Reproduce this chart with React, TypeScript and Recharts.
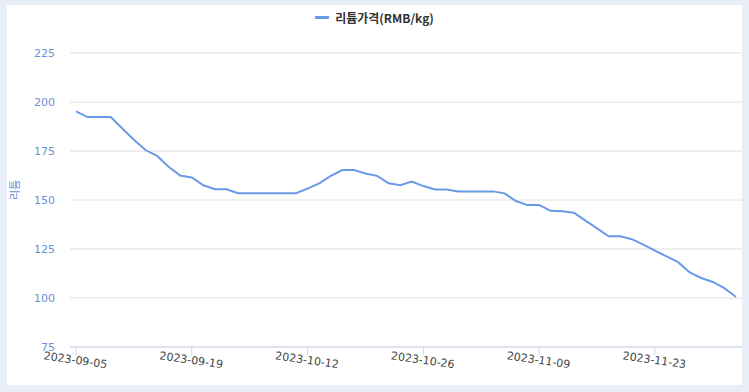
import { CartesianGrid, Legend, Line, LineChart, XAxis, YAxis } from "recharts";

// trading days, one label every 10 points
const dates = [
  "2023-09-05", "2023-09-06", "2023-09-07", "2023-09-08", "2023-09-11", "2023-09-12", "2023-09-13", "2023-09-14", "2023-09-15", "2023-09-18",
  "2023-09-19", "2023-09-20", "2023-09-21", "2023-09-22", "2023-09-25", "2023-09-26", "2023-09-27", "2023-10-09", "2023-10-10", "2023-10-11",
  "2023-10-12", "2023-10-13", "2023-10-16", "2023-10-17", "2023-10-18", "2023-10-19", "2023-10-20", "2023-10-23", "2023-10-24", "2023-10-25",
  "2023-10-26", "2023-10-27", "2023-10-30", "2023-10-31", "2023-11-01", "2023-11-02", "2023-11-03", "2023-11-06", "2023-11-07", "2023-11-08",
  "2023-11-09", "2023-11-10", "2023-11-13", "2023-11-14", "2023-11-15", "2023-11-16", "2023-11-17", "2023-11-20", "2023-11-21", "2023-11-22",
  "2023-11-23", "2023-11-24", "2023-11-27", "2023-11-28", "2023-11-29", "2023-11-30", "2023-12-01", "2023-12-04",
];

const lithium = [
  195.2, 192.3, 192.3, 192.3, 186.5, 180.7, 175.5, 172.5, 167, 162.5,
  161.5, 157.5, 155.5, 155.5, 153.5, 153.5, 153.5, 153.5, 153.5, 153.5,
  155.8, 158.5, 162.3, 165.3, 165.3, 163.5, 162.3, 158.5, 157.5, 159.4,
  157.1, 155.4, 155.4, 154.4, 154.4, 154.4, 154.4, 153.4, 149.5, 147.4,
  147.4, 144.5, 144.3, 143.5, 139.5, 135.5, 131.5, 131.5, 130, 127.2,
  124.2, 121.2, 118.3, 113, 110.2, 108.2, 105, 100.5,
];

const yTicks = [75, 100, 125, 150, 175, 200, 225];
const seriesName = "리튬가격(RMB/kg)";
const lineColor = "#6a9ae6";

const data = dates.map((d, i) => ({ date: d, price: lithium[i] }));

function LegendContent() {
  return (
    <div style={{ display: "flex", justifyContent: "center", alignItems: "center", gap: 6 }}>
      <span style={{ display: "inline-block", width: 14, height: 3, background: lineColor }} />
      <span style={{ fontFamily: "'Noto Sans CJK KR', 'Noto Sans', sans-serif", fontWeight: 700, fontSize: 12, color: "#333" }}>
        {seriesName}
      </span>
    </div>
  );
}

export default function App() {
  return (
    <div style={{ position: "fixed", left: 0, top: 0, width: 749, height: 392, background: "#e8eef8" }}>
      <div style={{ position: "absolute", left: 7, top: 5, width: 735, height: 380, background: "#fff" }}>
        {/* legend height gets added to the top margin, so keep it small */}
        <LineChart width={735} height={380} data={data} margin={{ top: 31, right: 0, left: 0, bottom: 8 }}>
          <CartesianGrid vertical={false} stroke="#e0e0e0" />
          <Legend verticalAlign="top" content={<LegendContent />} wrapperStyle={{ top: 4, left: 0, width: 735 }} />
          <XAxis
            dataKey="date"
            interval={9}
            padding={{ left: 6, right: 6 }}
            stroke="#ccd6eb"
            tickSize={8}
            tickMargin={1}
            height={30}
            angle={8}
            textAnchor="middle"
            tick={{ fill: "#444", fontSize: 11, fontFamily: "DejaVu Sans" }}
          />
          <YAxis
            domain={[75, 225]}
            ticks={yTicks}
            width={63}
            axisLine={false}
            tickLine={false}
            tickMargin={9}
            tick={{ fill: "#6b8fd6", fontSize: 11, fontFamily: "DejaVu Sans" }}
            label={{ value: "리튬", angle: -90, position: "insideLeft", offset: 8, fill: "#6b8fd6", fontSize: 11, fontFamily: "'Noto Sans CJK KR'" }}
          />
          <Line type="linear" dataKey="price" name={seriesName} stroke={lineColor} strokeWidth={2} dot={false} isAnimationActive={false} />
        </LineChart>
      </div>
    </div>
  );
}
